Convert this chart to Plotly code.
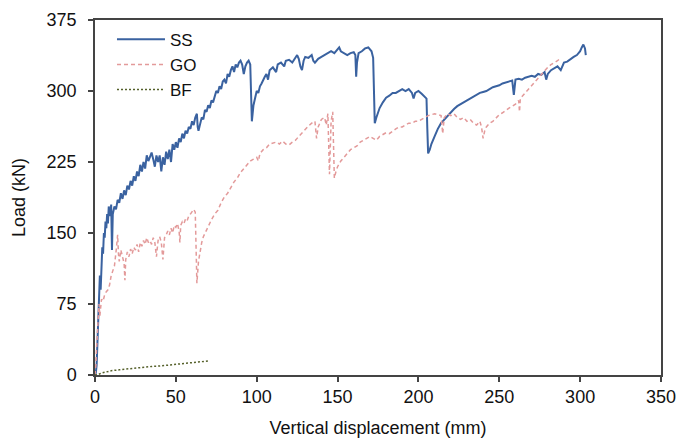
import plotly.graph_objects as go

# ---- data ----
ss_x = [0,0.5,1,1.5,2,2.5,3,3.5,4,4.5,5,5.5,6,6.5,7,7.5,8,8.5,9,9.5,10,10.5,11,12,13,14,15,16,17,18,19,20,
        21,22,23,24,25,26,27,28,29,30,31,32,33,34,35,36,37,38,39,40,41,42,43,44,45,46,47,48,49,50,
        51,52,53,54,55,56,57,58,59,60,61,62,63,63.5,64,65,66,67,68,69,70,71,72,73,74,75,76,77,78,79,80,
        81,82,83,84,85,86,87,88,89,90,91,92,93,94,95,96,96.5,97,98,99,100,101,102,103,104,105,106,107,108,110,
        112,113,115,117,118,120,122,124,125,126,127,128,129,130,132,134,135,136,138,140,142,144,146,148,150,
        151,152,154,156,158,160,161,161.5,162,163,165,167,169,170,171,172,172.5,173,174,175,176,178,180,
        182,184,186,188,190,192,194,196,197,198,200,202,204,205,205.5,206,207,208,210,212,214,216,218,220,
        222,224,226,228,230,232,234,236,238,240,242,244,246,248,250,252,254,256,258,259,260,262,264,266,268,270,
        272,274,276,278,279,280,282,284,286,288,290,292,294,296,298,300,301,302,303,303.5]
ss_y = [0,2,10,40,70,95,105,90,120,135,128,150,145,162,155,170,160,178,172,168,180,132,170,178,175,185,182,192,186,195,190,200,
        196,205,200,210,205,215,210,222,215,225,218,232,226,230,235,228,220,232,225,232,215,230,222,236,228,238,225,244,238,246,
        240,250,246,255,250,258,255,262,260,268,264,272,276,262,258,265,272,270,280,278,285,282,290,288,295,300,298,305,302,310,312,
        308,318,315,322,326,320,328,325,330,332,328,318,326,330,332,328,280,268,285,292,300,298,305,308,312,315,318,312,322,325,
        320,328,330,326,332,333,330,335,338,334,326,322,332,336,335,338,332,330,334,336,338,340,342,340,344,
        346,342,340,338,340,341,338,315,330,340,342,345,346,344,342,335,300,266,272,278,282,288,293,
        295,298,298,300,302,300,302,298,292,298,300,297,294,292,260,234,238,244,252,260,266,270,274,278,
        281,284,286,288,290,292,294,296,298,299,300,302,304,305,306,308,309,310,311,296,312,313,312,314,315,316,
        315,318,317,320,312,318,322,324,326,322,330,331,334,336,338,342,346,349,345,338]

go_x = [0,0.5,1,1.5,2,2.5,3,3.5,4,5,6,7,8,9,10,11,12,13,14,14.5,15,16,17,18,18.5,19,20,21,22,23,24,25,26,27,28,29,30,
        31,32,33,34,35,36,37,38,39,40,41,42,43,44,45,46,47,48,49,50,51,52,52.5,53,54,55,56,57,58,59,60,61,62,62.5,63,64,65,
        66,67,68,70,72,74,76,78,80,82,84,86,88,90,92,94,96,98,100,101,102,104,106,108,110,112,114,116,118,120,122,124,126,
        128,130,132,134,136,137,138,140,142,143,144,145,146,147,147.5,148,149,150,152,154,156,158,160,162,164,166,168,170,
        172,174,176,178,180,182,184,186,188,190,192,194,196,198,200,202,204,206,208,210,212,214,215,216,218,220,222,224,226,
        228,230,232,234,236,238,239,240,241,242,244,246,248,250,252,254,256,258,260,262,262.5,263,264,266,268,270,272,274,276,
        278,280,282,284,286,288]
go_y = [0,10,30,45,58,75,62,70,80,78,85,88,90,95,105,110,115,130,148,128,120,132,125,118,100,122,130,125,133,128,135,132,138,130,140,136,142,
        138,145,140,142,138,145,140,125,142,146,140,122,145,148,152,148,155,150,158,156,160,152,140,158,162,160,165,163,168,170,172,175,172,130,97,120,133,
        140,146,150,158,164,170,174,182,188,192,198,204,208,214,218,222,226,228,230,226,234,238,240,244,245,246,244,247,244,243,246,248,252,
        256,260,263,266,268,250,262,270,272,264,276,212,268,278,240,208,215,220,226,230,234,238,240,242,246,248,250,252,
        250,248,252,254,256,255,258,260,262,262,264,266,266,268,268,270,272,274,275,276,275,274,255,272,276,274,276,272,270,
        272,268,270,266,264,268,262,250,258,262,266,268,272,275,277,280,282,284,286,290,278,292,294,298,302,306,310,314,318,
        322,325,328,330,332,335]

bf_x = [0,2,4,6,8,10,15,20,25,30,35,40,45,50,55,60,65,70,71]
bf_y = [0,0.5,2,3,4,4.5,5.5,6.5,7.5,8,9,9.5,10.5,11,12,13,14,15,15]

x_ticks = [0, 50, 100, 150, 200, 250, 300, 350]
y_ticks = [0, 75, 150, 225, 300, 375]

FONT = "Liberation Sans, Arial, sans-serif"

fig = go.Figure()
fig.add_trace(go.Scatter(x=ss_x, y=ss_y, mode="lines", name="SS",
                         line=dict(color="#3a62a0", width=2)))
fig.add_trace(go.Scatter(x=go_x, y=go_y, mode="lines", name="GO",
                         line=dict(color="#e39a9a", width=1.5, dash="4px,3px")))
fig.add_trace(go.Scatter(x=bf_x, y=bf_y, mode="lines", name="BF",
                         line=dict(color="#55602a", width=1.5, dash="2px,2px")))

axis_common = dict(showline=True, linecolor="#444", linewidth=1.5, mirror=True,
                   ticks="outside", ticklen=5, tickcolor="#444", tickwidth=1.5,
                   showgrid=False, zeroline=False, automargin=False,
                   ticklabeloverflow="allow",
                   tickfont=dict(family=FONT, size=18, color="#111"))

fig.update_layout(
    width=677, height=438,
    margin=dict(l=95, r=16, t=20, b=63),
    paper_bgcolor="white", plot_bgcolor="white",
    font=dict(family=FONT, size=18, color="#111"),
    showlegend=True,
    legend=dict(x=0.03, y=0.995, xanchor="left", yanchor="top",
                bgcolor="rgba(0,0,0,0)", font=dict(family=FONT, size=17, color="#111"),
                tracegroupgap=0, itemwidth=48),
    xaxis=dict(range=[0, 350], tickvals=x_ticks,
               title=dict(text="Vertical displacement (mm)", font=dict(family=FONT, size=18), standoff=20),
               **axis_common),
    yaxis=dict(range=[0, 375], tickvals=y_ticks, ticklabelstandoff=8,
               title=dict(text="Load (kN)", font=dict(family=FONT, size=18), standoff=16),
               **axis_common),
)

fig.write_html("out.html",
               config={"displayModeBar": False},
               post_script="document.body.style.margin='0';document.body.style.overflow='hidden';")
